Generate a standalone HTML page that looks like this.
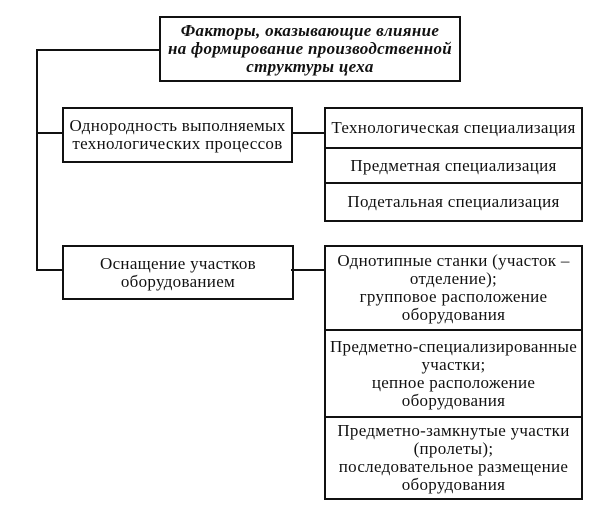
<!DOCTYPE html>
<html><head><meta charset="utf-8">
<style>
html,body{margin:0;padding:0;background:#fff;}
body{width:600px;height:508px;position:relative;overflow:hidden;font-family:"Liberation Serif","Noto Serif CJK SC",serif;color:#111;}
.b{position:absolute;box-sizing:border-box;border:2px solid #111;display:flex;align-items:center;justify-content:center;text-align:center;font-size:17px;line-height:18px;letter-spacing:0.3px;white-space:nowrap;}
.l{position:absolute;background:#111;}
.t{font-weight:bold;font-style:italic;letter-spacing:0.3px;}
</style></head><body>
<div class="l" style="left:36px;top:49px;width:2px;height:222px;"></div>
<div class="l" style="left:36px;top:49px;width:124px;height:2px;"></div>
<div class="l" style="left:36px;top:132px;width:28px;height:2px;"></div>
<div class="l" style="left:36px;top:269px;width:28px;height:2px;"></div>
<div class="l" style="left:291px;top:132px;width:35px;height:2px;"></div>
<div class="l" style="left:291px;top:269px;width:35px;height:2px;"></div>

<div class="b t" style="left:159px;top:16px;width:302px;height:66px;">Факторы, оказывающие влияние<br>на формирование производственной<br>структуры цеха</div>

<div class="b" style="left:62px;top:107px;width:231px;height:56px;">Однородность выполняемых<br>технологических процессов</div>
<div class="b" style="left:62px;top:245px;width:232px;height:55px;">Оснащение участков<br>оборудованием</div>

<div class="b" style="left:324px;top:107px;width:259px;height:42px;">Технологическая специализация</div>
<div class="b" style="left:324px;top:147px;width:259px;height:37px;">Предметная специализация</div>
<div class="b" style="left:324px;top:182px;width:259px;height:40px;">Подетальная специализация</div>

<div class="b" style="left:324px;top:245px;width:259px;height:86px;">Однотипные станки (участок –<br>отделение);<br>групповое расположение<br>оборудования</div>
<div class="b" style="left:324px;top:329px;width:259px;height:89px;">Предметно-специализированные<br>участки;<br>цепное расположение<br>оборудования</div>
<div class="b" style="left:324px;top:416px;width:259px;height:84px;">Предметно-замкнутые участки<br>(пролеты);<br>последовательное размещение<br>оборудования</div>
</body></html>
